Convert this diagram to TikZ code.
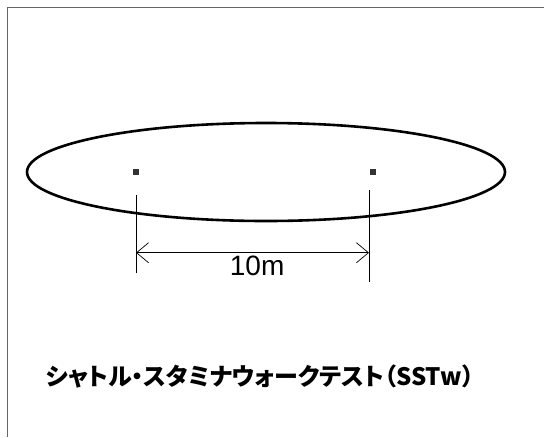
\documentclass[tikz,border=0pt]{standalone}
\usepackage{fontspec}
\setmainfont{Liberation Sans}
\newfontfamily\jpfont[RawFeature=+palt]{Noto Sans CJK JP}
\usetikzlibrary{arrows.meta, positioning, calc}

\begin{document}
\begin{tikzpicture}[x=1pt, y=-1pt,
	course/.style={draw, line width=2.6pt},
	marker/.style={rectangle, fill=black!80, inner sep=0pt, minimum size=5.5pt},
	extline/.style={draw, line width=0.8pt},
	dimarrow/.style={{Straight Barb[length=12pt, width=20pt]}-{Straight Barb[length=12pt, width=20pt]}, line width=0.7pt},
	frameline/.style={draw, black!60, line width=0.9pt},
	every node/.style={align=center}
	]
	\useasboundingbox (0,0) rectangle (544,437);
	% frame
	\draw[frameline] (7,437) -- (7,7) -- (544,7);
	% walking course
	\draw[course] (266,172) ellipse [x radius=239, y radius=49];
	\node[marker] (mark-l) at (136,172) {};
	\node[marker] (mark-r) at (373,172) {};
	% 10 m distance
	\coordinate (l-top) at (136,195);
	\coordinate (l-bot) at (136,273);
	\coordinate (r-top) at (369,190);
	\coordinate (r-bot) at (369,282);
	\draw[extline] (l-top) -- (l-bot);
	\draw[extline] (r-top) -- (r-bot);
	\draw[dimarrow] ($(l-top)!0.74!(l-bot)$) coordinate (a-l) -- (a-l -| r-top) coordinate (a-r);
	\node[font=\fontsize{28}{30}\selectfont, below=0pt of $(a-l)!0.52!(a-r)$] (dist) {10m};
	% title
	\node[font=\jpfont\bfseries\fontsize{24}{28}\selectfont, anchor=west] (title) at (42,376) {シャトル・スタミナウォークテスト（SSTw）};
\end{tikzpicture}
\end{document}
